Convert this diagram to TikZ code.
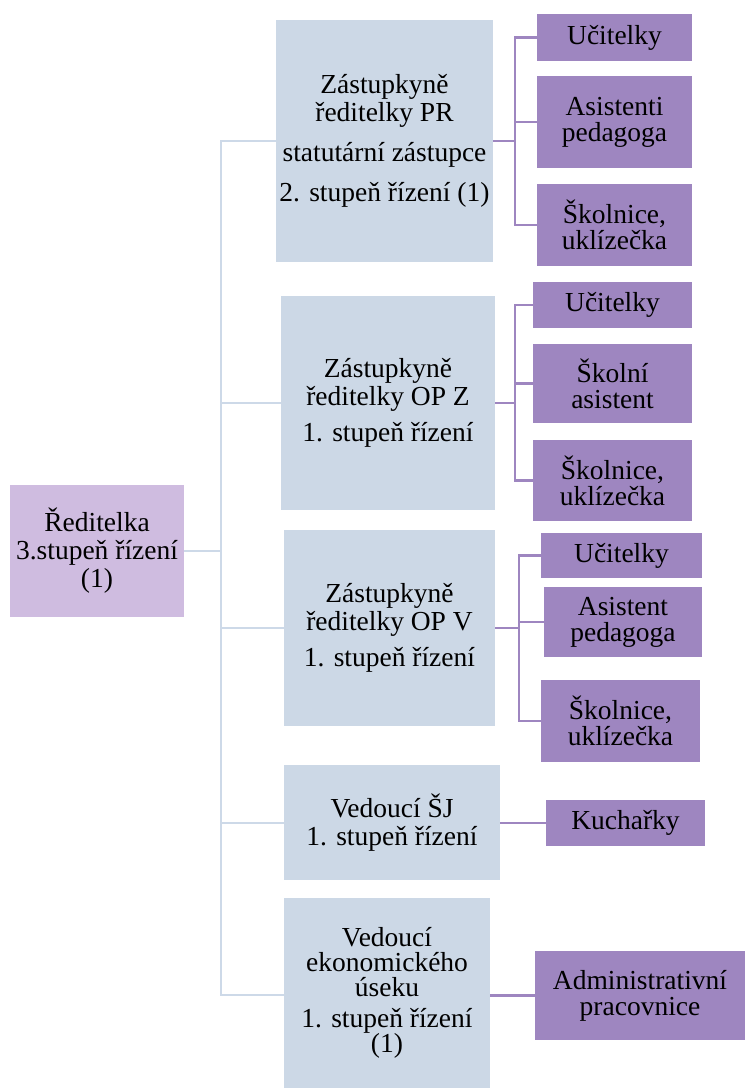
\documentclass[tikz,border=0pt]{standalone}
\usepackage{fontspec}
\setmainfont{Liberation Serif}
\definecolor{rootc}{HTML}{CFBCE0}
\definecolor{midc}{HTML}{CCD8E6}
\definecolor{leafc}{HTML}{9E86C0}
\definecolor{bluel}{HTML}{CDD9E8}
\begin{document}
\begin{tikzpicture}[x=1pt,y=-1pt,
  box/.style={rectangle,inner sep=0pt,align=center,font=\fontsize{27.5}{28}\selectfont},
  rootbox/.style={box,fill=rootc},
  midbox/.style={box,fill=midc},
  leafbox/.style={box,fill=leafc,font=\fontsize{27.5}{26}\selectfont},
  blueline/.style={draw=bluel,line width=2.6pt},
  purpline/.style={draw=leafc,line width=2.6pt}]
\useasboundingbox (0,0) rectangle (745,1088);
% root
\node[rootbox,minimum width=174pt,minimum height=132pt] (root) at (97,551) {Ředitelka\\3.stupeň řízení\\(1)};
% level 2
\node[midbox,minimum width=217pt,minimum height=242pt] (m1) at (384.5,141) {Zástupkyně\\ředitelky PR\\[12pt]statutární zástupce\\[12pt]2. stupeň řízení (1)};
\node[midbox,minimum width=214pt,minimum height=214pt] (m2) at (388,403) {Zástupkyně\\ředitelky OP Z\\[8pt]1. stupeň řízení};
\node[midbox,minimum width=211pt,minimum height=196pt] (m3) at (389.5,628) {Zástupkyně\\ředitelky OP V\\[8pt]1. stupeň řízení};
\node[midbox,minimum width=216pt,minimum height=115pt] (m4) at (392,822.5) {Vedoucí ŠJ\\1. stupeň řízení};
\node[midbox,minimum width=206pt,minimum height=190pt,font=\fontsize{27.5}{25}\selectfont] (m5) at (387,993) {Vedoucí\\ekonomického\\úseku\\[6pt]1. stupeň řízení\\(1)};
% trunk
\coordinate (tj) at (221,551);
\coordinate (tt) at (221,141);
\coordinate (tb) at (221,995);
\draw[blueline] (root.east |- tj) -- (tj);
\draw[blueline] (tt -| m1.west) -- (tt) -- (tb) -- (tb -| m5.west);
\draw[blueline] (221,403) -- (m2.west |- 0,403);
\draw[blueline] (221,628) -- (m3.west |- 0,628);
\draw[blueline] (221,823) -- (m4.west |- 0,823);
% level 3, group 1
\node[leafbox,minimum width=155pt,minimum height=47pt] (a1) at (614.5,37.5) {Učitelky};
\node[leafbox,minimum width=155pt,minimum height=92pt] (a2) at (614.5,122) {Asistenti\\pedagoga};
\node[leafbox,minimum width=155pt,minimum height=82pt] (a3) at (614.5,225) {Školnice,\\uklízečka};
\coordinate (ba) at (515,141);
\draw[purpline] (m1.east |- ba) -- (ba);
\draw[purpline] (a1.west) -| (ba) |- (a3.west);
\draw[purpline] (ba) -- (515,122) -- (a2.west);
% group 2
\node[leafbox,minimum width=159pt,minimum height=46pt] (b1) at (612.5,305) {Učitelky};
\node[leafbox,minimum width=159pt,minimum height=79pt] (b2) at (612.5,383.5) {Školní\\asistent};
\node[leafbox,minimum width=159pt,minimum height=81pt] (b3) at (612.5,480.5) {Školnice,\\uklízečka};
\coordinate (bb) at (515,403);
\draw[purpline] (m2.east |- bb) -- (bb);
\draw[purpline] (b1.west) -| (bb) |- (b3.west);
\draw[purpline] (515,383.5) -- (b2.west);
% group 3
\node[leafbox,minimum width=161pt,minimum height=45pt] (c1) at (621.5,555.5) {Učitelky};
\node[leafbox,minimum width=158pt,minimum height=70pt] (c2) at (623,622) {Asistent\\pedagoga};
\node[leafbox,minimum width=159pt,minimum height=82pt] (c3) at (620.5,721) {Školnice,\\uklízečka};
\coordinate (bc) at (519,628);
\draw[purpline] (m3.east |- bc) -- (bc);
\draw[purpline] (c1.west) -| (bc) |- (c3.west);
\draw[purpline] (519,622) -- (c2.west);
% group 4
\node[leafbox,minimum width=159pt,minimum height=46pt] (d1) at (625.5,823) {Kuchařky};
\draw[purpline] (m4.east |- d1.west) -- (d1.west);
% group 5
\node[leafbox,minimum width=210pt,minimum height=89pt] (e1) at (640,995.5) {Administrativní\\pracovnice};
\draw[purpline] (m5.east |- e1.west) -- (e1.west);
\end{tikzpicture}
\end{document}
